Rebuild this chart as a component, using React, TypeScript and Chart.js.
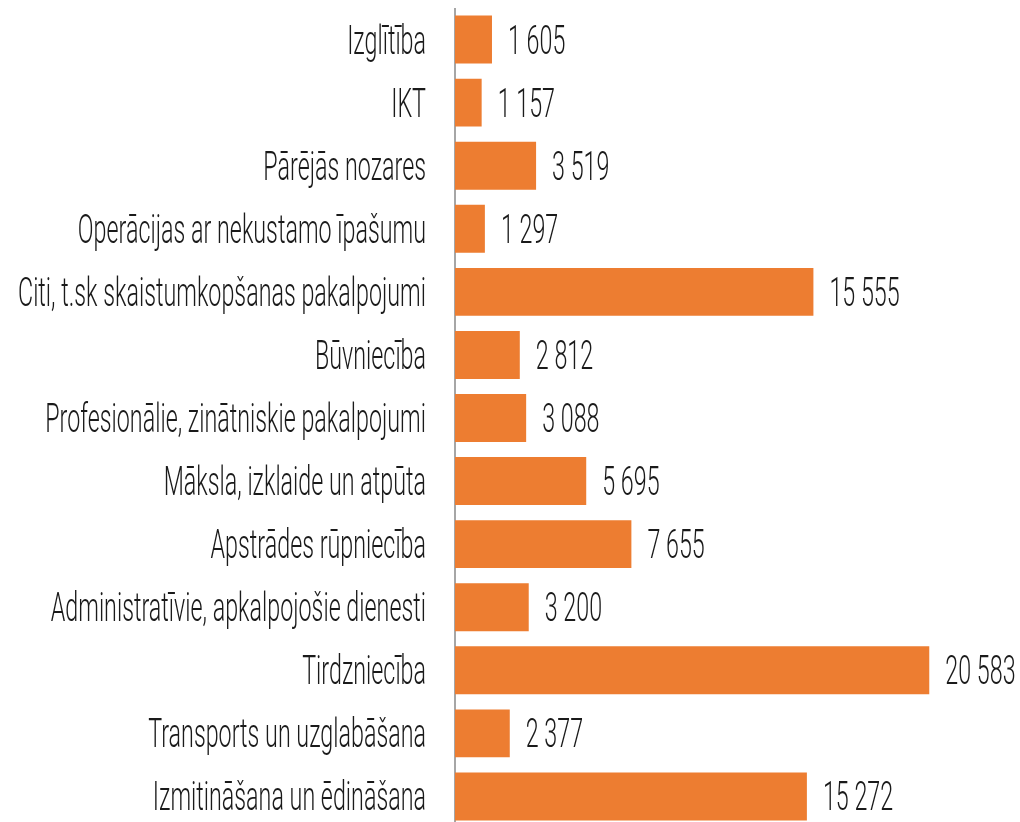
import React, { useEffect, useRef } from "react";
import { Chart, registerables } from "chart.js";

Chart.register(...registerables);

const categories: string[] = [
  "Izglītība",
  "IKT",
  "Pārējās nozares",
  "Operācijas ar nekustamo īpašumu",
  "Citi, t.sk skaistumkopšanas pakalpojumi",
  "Būvniecība",
  "Profesionālie, zinātniskie pakalpojumi",
  "Māksla, izklaide un atpūta",
  "Apstrādes rūpniecība",
  "Administratīvie, apkalpojošie dienesti",
  "Tirdzniecība",
  "Transports un uzglabāšana",
  "Izmitināšana un ēdināšana",
];

const values: number[] = [
  1605, 1157, 3519, 1297, 15555, 2812, 3088, 5695, 7655, 3200, 20583, 2377, 15272,
];

const fmt = (v: number) => String(v).replace(/\B(?=(\d{3})+(?!\d))/g, " ");

const FONT = '300 40px Roboto, "Liberation Sans", sans-serif';
const TEXT_COLOR = "#1a1a1a";

const labelPlugin = {
  id: "condensedLabels",
  afterDatasetsDraw(chart: any) {
    const { ctx, chartArea } = chart;
    const yScale = chart.scales.y;
    const xScale = chart.scales.x;
    ctx.save();
    ctx.font = FONT;
    let maxW = 0;
    categories.forEach((c) => {
      maxW = Math.max(maxW, ctx.measureText(c).width);
    });
    const s = 408 / maxW;
    ctx.fillStyle = TEXT_COLOR;
    ctx.textBaseline = "alphabetic";
    const rightX = chartArea.left - 29;
    categories.forEach((c, i) => {
      const y = yScale.getPixelForValue(i) + 14;
      ctx.save();
      ctx.translate(rightX, y);
      ctx.scale(s, 1);
      ctx.textAlign = "right";
      ctx.fillText(c, 0, 0);
      ctx.restore();
      const vx = xScale.getPixelForValue(values[i]) + 16;
      ctx.save();
      ctx.translate(vx, y);
      ctx.scale(s, 1);
      ctx.textAlign = "left";
      ctx.fillText(fmt(values[i]), 0, 0);
      ctx.restore();
    });
    ctx.restore();
  },
};

export default function App() {
  const ref = useRef<HTMLCanvasElement | null>(null);
  useEffect(() => {
    if (!ref.current) return;
    const chart = new Chart(ref.current, {
      type: "bar",
      data: {
        labels: categories,
        datasets: [
          {
            data: values,
            backgroundColor: "#ED7D31",
            borderWidth: 0,
            barPercentage: 0.76,
            categoryPercentage: 1,
          },
        ],
      },
      options: {
        indexAxis: "y",
        animation: false,
        responsive: true,
        maintainAspectRatio: false,
        layout: { padding: { top: 0, bottom: 0, left: 0, right: 12 } },
        plugins: {
          legend: { display: false },
          tooltip: { enabled: false },
        },
        scales: {
          x: {
            display: false,
            min: 0,
            max: 24000,
          },
          y: {
            afterFit: (scale: any) => {
              scale.width = 447;
            },
            grid: { display: false },
            border: { display: true, color: "#a6a6a6", width: 2 },
            ticks: { display: false },
          },
        },
      },
      plugins: [labelPlugin],
    });
    return () => chart.destroy();
  }, []);
  return (
    <div
      style={{
        position: "fixed",
        top: 8,
        left: 8,
        width: 1012,
        height: 820,
      }}
    >
      <canvas ref={ref} />
    </div>
  );
}
